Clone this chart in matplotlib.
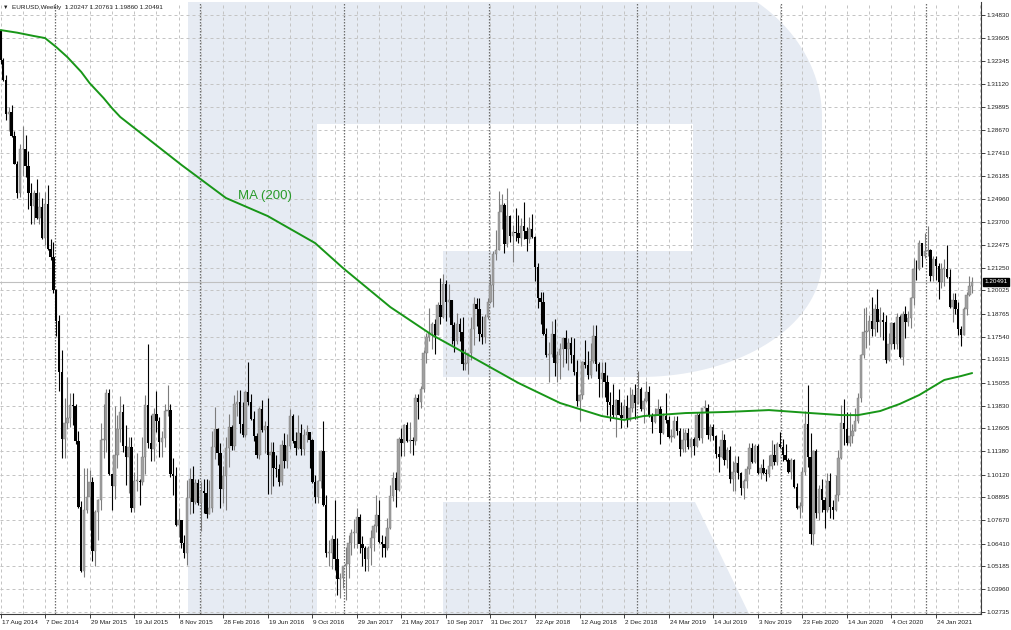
import matplotlib
matplotlib.use("Agg")
import numpy as np
import matplotlib.pyplot as plt
import matplotlib.transforms as mtransforms
from matplotlib.patches import Polygon

plt.rcParams['font.family'] = ['Liberation Sans', 'DejaVu Sans']

# ---- data (EURUSD weekly) ----
symbol = "EURUSD,Weekly"
header_ohlc = ["1.20247", "1.20761", "1.19860", "1.20491"]
first_open = 1.3397

closes = [
    1.3240, 1.3131, 1.2950, 1.2963, 1.2830, 1.2683, 1.2525, 1.2760, 1.2760, 1.2670,
    1.2525, 1.2455, 1.2525, 1.2390, 1.2450, 1.2285, 1.2465, 1.2225, 1.2180, 1.2003,
    1.1840, 1.1565, 1.1205, 1.1290, 1.1315, 1.1385, 1.1380, 1.1195, 1.0840, 1.0495,
    1.0820, 1.0890, 1.0970, 1.0600, 1.0810, 1.0875, 1.1200, 1.1200, 1.1450, 1.1015,
    1.0950, 1.1115, 1.1260, 1.1350, 1.1165, 1.1105, 1.1160, 1.0830, 1.0980, 1.0980,
    1.0970, 1.1105, 1.1385, 1.1180, 1.1150, 1.1340, 1.1300, 1.1190, 1.1210, 1.1355,
    1.1360, 1.1015, 1.1005, 1.0740, 1.0770, 1.0645, 1.0590, 1.0885, 1.0990, 1.0865,
    1.0965, 1.0860, 1.0925, 1.0915, 1.0800, 1.0830, 1.1160, 1.1255, 1.1130, 1.0935,
    1.1005, 1.1155, 1.1270, 1.1165, 1.1390, 1.1400, 1.1285, 1.1225, 1.1455, 1.1400,
    1.1310, 1.1220, 1.1115, 1.1365, 1.1250, 1.1275, 1.1120, 1.1135, 1.1050, 1.1040,
    1.0975, 1.1170, 1.1085, 1.1165, 1.1325, 1.1195, 1.1155, 1.1235, 1.1150, 1.1225,
    1.1240, 1.1200, 1.0970, 1.0890, 1.0980, 1.1140, 1.0850, 1.0590, 1.0590, 1.0665,
    1.0560, 1.0450, 1.0455, 1.0520, 1.0530, 1.0645, 1.0700, 1.0700, 1.0785, 1.0640,
    1.0615, 1.0560, 1.0620, 1.0670, 1.0735, 1.0795, 1.0650, 1.0640, 1.0615, 1.0725,
    1.0895, 1.0995, 1.0930, 1.1205, 1.1180, 1.1280, 1.1195, 1.1200, 1.1195, 1.1425,
    1.1400, 1.1470, 1.1665, 1.1750, 1.1775, 1.1820, 1.1760, 1.1925, 1.1860, 1.2035,
    1.1940, 1.1950, 1.1815, 1.1730, 1.1820, 1.1780, 1.1605, 1.1610, 1.1665, 1.1795,
    1.1930, 1.1900, 1.1770, 1.1750, 1.1860, 1.1940, 1.2030, 1.2200, 1.2220, 1.2425,
    1.2460, 1.2250, 1.2405, 1.2295, 1.2315, 1.2310, 1.2285, 1.2350, 1.2320, 1.2280,
    1.2330, 1.2290, 1.2130, 1.1960, 1.1940, 1.1770, 1.1655, 1.1660, 1.1770, 1.1610,
    1.1655, 1.1685, 1.1745, 1.1685, 1.1720, 1.1655, 1.1565, 1.1410, 1.1440, 1.1620,
    1.1600, 1.1550, 1.1625, 1.1755, 1.1605, 1.1525, 1.1560, 1.1510, 1.1400, 1.1385,
    1.1335, 1.1415, 1.1335, 1.1315, 1.1380, 1.1305, 1.1370, 1.1440, 1.1395, 1.1470,
    1.1365, 1.1410, 1.1455, 1.1325, 1.1295, 1.1335, 1.1365, 1.1235, 1.1325, 1.1305,
    1.1215, 1.1215, 1.1300, 1.1245, 1.1150, 1.1200, 1.1235, 1.1160, 1.1205, 1.1165,
    1.1330, 1.1210, 1.1370, 1.1370, 1.1225, 1.1270, 1.1220, 1.1125, 1.1105, 1.1200,
    1.1090, 1.1145, 1.0990, 1.1025, 1.1075, 1.1020, 1.0940, 1.0980, 1.1040, 1.1155,
    1.1080, 1.1165, 1.1020, 1.1050, 1.1020, 1.1015, 1.1060, 1.1120, 1.1080, 1.1175,
    1.1160, 1.1120, 1.1090, 1.1025, 1.1090, 1.0945, 1.0830, 1.0845, 1.1025, 1.1285,
    1.1105, 1.0695, 1.1140, 1.0805, 1.0935, 1.0875, 1.0820, 1.0980, 1.0840, 1.0820,
    1.0900, 1.1100, 1.1290, 1.1255, 1.1180, 1.1220, 1.1245, 1.1300, 1.1425, 1.1655,
    1.1780, 1.1785, 1.1840, 1.1795, 1.1905, 1.1835, 1.1845, 1.1835, 1.1630, 1.1715,
    1.1825, 1.1715, 1.1860, 1.1645, 1.1875, 1.1835, 1.1855, 1.1960, 1.2120, 1.2115,
    1.2255, 1.2185, 1.2215, 1.2220, 1.2080, 1.2170, 1.2135, 1.2045, 1.2120, 1.2120,
    1.2075, 1.1915, 1.1950, 1.1905, 1.1795, 1.1760, 1.1900, 1.1980, 1.20247, 1.20491,
]

highs = [
    1.3400, 1.3250, 1.3160, 1.2990, 1.3000, 1.2860, 1.2700, 1.2790, 1.2888, 1.2840,
    1.2750, 1.2580, 1.2540, 1.2600, 1.2530, 1.2500, 1.2530, 1.2570, 1.2280, 1.2260,
    1.2010, 1.1870, 1.1680, 1.1425, 1.1535, 1.1450, 1.1450, 1.1390, 1.1245, 1.0870,
    1.1045, 1.1050, 1.1035, 1.1000, 1.0820, 1.0880, 1.1290, 1.1390, 1.1470, 1.1470,
    1.1015, 1.1380, 1.1335, 1.1435, 1.1390, 1.1280, 1.1215, 1.1215, 1.1025, 1.1130,
    1.0990, 1.1215, 1.1440, 1.1715, 1.1330, 1.1370, 1.1460, 1.1320, 1.1245, 1.1390,
    1.1495, 1.1390, 1.1100, 1.1055, 1.0830, 1.0770, 1.0690, 1.0985, 1.1045, 1.1060,
    1.0990, 1.0990, 1.0970, 1.0990, 1.0990, 1.0985, 1.1245, 1.1375, 1.1265, 1.1180,
    1.1060, 1.1215, 1.1340, 1.1280, 1.1440, 1.1465, 1.1465, 1.1400, 1.1460, 1.1615,
    1.1445, 1.1355, 1.1235, 1.1375, 1.1415, 1.1300, 1.1425, 1.1185, 1.1185, 1.1120,
    1.1070, 1.1200, 1.1235, 1.1230, 1.1365, 1.1340, 1.1240, 1.1330, 1.1285, 1.1255,
    1.1280, 1.1240, 1.1205, 1.1010, 1.0985, 1.1145, 1.1300, 1.0900, 1.0660, 1.0685,
    1.0875, 1.0670, 1.0485, 1.0520, 1.0625, 1.0685, 1.0720, 1.0775, 1.0830, 1.0800,
    1.0680, 1.0630, 1.0630, 1.0715, 1.0745, 1.0905, 1.0875, 1.0690, 1.0680, 1.0780,
    1.0955, 1.1025, 1.1025, 1.1215, 1.1265, 1.1285, 1.1295, 1.1295, 1.1215, 1.1445,
    1.1445, 1.1490, 1.1680, 1.1775, 1.1910, 1.1830, 1.1850, 1.1940, 1.2070, 1.2090,
    1.2060, 1.2035, 1.1950, 1.1830, 1.1880, 1.1855, 1.1860, 1.1690, 1.1665, 1.1860,
    1.1965, 1.1960, 1.1960, 1.1865, 1.1875, 1.1960, 1.2090, 1.2215, 1.2325, 1.2535,
    1.2520, 1.2470, 1.2555, 1.2410, 1.2355, 1.2445, 1.2410, 1.2390, 1.2475, 1.2345,
    1.2395, 1.2415, 1.2295, 1.2150, 1.1995, 1.1995, 1.1800, 1.1725, 1.1840, 1.1850,
    1.1675, 1.1720, 1.1750, 1.1790, 1.1745, 1.1750, 1.1745, 1.1630, 1.1445, 1.1625,
    1.1735, 1.1675, 1.1720, 1.1815, 1.1815, 1.1620, 1.1620, 1.1620, 1.1545, 1.1455,
    1.1500, 1.1420, 1.1470, 1.1400, 1.1420, 1.1440, 1.1485, 1.1470, 1.1500, 1.1570,
    1.1485, 1.1425, 1.1515, 1.1490, 1.1345, 1.1370, 1.1420, 1.1380, 1.1345, 1.1450,
    1.1325, 1.1255, 1.1325, 1.1325, 1.1265, 1.1265, 1.1255, 1.1265, 1.1215, 1.1215,
    1.1350, 1.1345, 1.1370, 1.1415, 1.1390, 1.1285, 1.1285, 1.1225, 1.1165, 1.1250,
    1.1230, 1.1160, 1.1165, 1.1085, 1.1110, 1.1110, 1.1025, 1.0990, 1.1060, 1.1180,
    1.1180, 1.1175, 1.1175, 1.1070, 1.1095, 1.1040, 1.1115, 1.1200, 1.1175, 1.1190,
    1.1240, 1.1205, 1.1175, 1.1100, 1.1100, 1.1095, 1.0965, 1.0865, 1.1055, 1.1355,
    1.1495, 1.1235, 1.1145, 1.1150, 1.0955, 1.0990, 1.0890, 1.1020, 1.1020, 1.0875,
    1.1010, 1.1145, 1.1385, 1.1420, 1.1350, 1.1350, 1.1285, 1.1370, 1.1450, 1.1660,
    1.1910, 1.1915, 1.1870, 1.1965, 1.1930, 1.2010, 1.1915, 1.1885, 1.1870, 1.1775,
    1.1830, 1.1830, 1.1880, 1.1870, 1.1890, 1.1920, 1.1890, 1.1965, 1.2175, 1.2165,
    1.2275, 1.2250, 1.2310, 1.2350, 1.2225, 1.2190, 1.2190, 1.2150, 1.2150, 1.2170,
    1.2245, 1.2115, 1.1990, 1.1990, 1.1940, 1.1810, 1.1915, 1.1995, 1.2080, 1.20761,
]

lows = [
    1.3217, 1.3130, 1.2920, 1.2860, 1.2825, 1.2680, 1.2500, 1.2505, 1.2615, 1.2613,
    1.2440, 1.2358, 1.2360, 1.2385, 1.2360, 1.2280, 1.2245, 1.2220, 1.2165, 1.1990,
    1.1755, 1.1460, 1.1100, 1.1100, 1.1260, 1.1270, 1.1280, 1.1175, 1.0835, 1.0490,
    1.0460, 1.0805, 1.0715, 1.0550, 1.0520, 1.0660, 1.0820, 1.1100, 1.1135, 1.1010,
    1.0820, 1.0880, 1.1050, 1.1190, 1.1135, 1.0955, 1.0915, 1.0810, 1.0810, 1.0925,
    1.0850, 1.0955, 1.1015, 1.1155, 1.1085, 1.1085, 1.1240, 1.1105, 1.1105, 1.1160,
    1.1325, 1.1000, 1.0900, 1.0735, 1.0675, 1.0620, 1.0565, 1.0525, 1.0800, 1.0805,
    1.0855, 1.0850, 1.0710, 1.0805, 1.0780, 1.0810, 1.0810, 1.1095, 1.1065, 1.0835,
    1.0860, 1.0820, 1.1055, 1.1145, 1.1145, 1.1325, 1.1235, 1.1215, 1.1215, 1.1385,
    1.1305, 1.1195, 1.1100, 1.1095, 1.1240, 1.1130, 1.0910, 1.0910, 1.0950, 1.1000,
    1.0950, 1.0955, 1.1045, 1.1045, 1.1150, 1.1180, 1.1120, 1.1150, 1.1120, 1.1120,
    1.1190, 1.1045, 1.0965, 1.0860, 1.0860, 1.0940, 1.0845, 1.0570, 1.0520, 1.0505,
    1.0500, 1.0365, 1.0350, 1.0405, 1.0340, 1.0455, 1.0580, 1.0620, 1.0620, 1.0590,
    1.0520, 1.0495, 1.0495, 1.0525, 1.0600, 1.0705, 1.0645, 1.0570, 1.0570, 1.0605,
    1.0720, 1.0870, 1.0840, 1.0925, 1.1110, 1.1110, 1.1190, 1.1130, 1.1120, 1.1170,
    1.1310, 1.1370, 1.1455, 1.1610, 1.1730, 1.1690, 1.1660, 1.1770, 1.1820, 1.1855,
    1.1840, 1.1860, 1.1715, 1.1670, 1.1715, 1.1730, 1.1575, 1.1575, 1.1555, 1.1630,
    1.1710, 1.1810, 1.1730, 1.1715, 1.1720, 1.1850, 1.1935, 1.1915, 1.2165, 1.2220,
    1.2335, 1.2205, 1.2235, 1.2260, 1.2155, 1.2270, 1.2255, 1.2240, 1.2280, 1.2215,
    1.2255, 1.2285, 1.2055, 1.1910, 1.1820, 1.1765, 1.1645, 1.1510, 1.1645, 1.1540,
    1.1510, 1.1525, 1.1590, 1.1610, 1.1575, 1.1610, 1.1545, 1.1380, 1.1300, 1.1420,
    1.1585, 1.1525, 1.1530, 1.1610, 1.1570, 1.1430, 1.1430, 1.1430, 1.1335, 1.1300,
    1.1315, 1.1215, 1.1330, 1.1265, 1.1320, 1.1270, 1.1300, 1.1350, 1.1310, 1.1390,
    1.1355, 1.1290, 1.1400, 1.1320, 1.1235, 1.1290, 1.1330, 1.1175, 1.1230, 1.1290,
    1.1210, 1.1185, 1.1210, 1.1225, 1.1110, 1.1135, 1.1135, 1.1150, 1.1105, 1.1115,
    1.1160, 1.1200, 1.1180, 1.1350, 1.1205, 1.1195, 1.1200, 1.1100, 1.1025, 1.1100,
    1.1065, 1.1050, 1.0965, 1.0925, 1.0925, 1.0990, 1.0905, 1.0880, 1.0940, 1.1015,
    1.1075, 1.1075, 1.1015, 1.0990, 1.1015, 1.0980, 1.1000, 1.1040, 1.1065, 1.1065,
    1.1155, 1.1085, 1.1085, 1.1020, 1.0990, 1.0940, 1.0825, 1.0780, 1.0810, 1.1010,
    1.1055, 1.0640, 1.0635, 1.0780, 1.0770, 1.0810, 1.0725, 1.0810, 1.0780, 1.0775,
    1.0815, 1.0870, 1.1095, 1.1170, 1.1170, 1.1165, 1.1180, 1.1250, 1.1290, 1.1405,
    1.1640, 1.1695, 1.1710, 1.1755, 1.1755, 1.1780, 1.1750, 1.1735, 1.1610, 1.1625,
    1.1690, 1.1690, 1.1690, 1.1640, 1.1600, 1.1745, 1.1810, 1.1800, 1.1925, 1.2060,
    1.2110, 1.2130, 1.2175, 1.2190, 1.2055, 1.2055, 1.2060, 1.1955, 1.2015, 1.2025,
    1.2070, 1.1910, 1.1835, 1.1875, 1.1760, 1.1705, 1.1760, 1.1870, 1.1975, 1.19860,
]

# MA(200): bar index -> value
ma_bars = [0, 6, 12, 16, 20, 24, 29, 32, 37, 40, 43, 54, 65, 81, 96, 113, 123, 140, 155,
           170, 186, 201, 216, 224, 231, 246, 261, 276, 291, 302, 308, 316, 323, 330, 339,
           345, 349]
ma_vals = [1.3402, 1.3388, 1.3370, 1.3359, 1.3311, 1.3257, 1.3177, 1.3117, 1.3037, 1.2983,
           1.2935, 1.2806, 1.2677, 1.2499, 1.2402, 1.2257, 1.2123, 1.1913, 1.1763, 1.1639,
           1.1505, 1.1397, 1.1327, 1.1306, 1.1327, 1.1343, 1.1349, 1.1359, 1.1343, 1.1332,
           1.1332, 1.1354, 1.1392, 1.1440, 1.1521, 1.1542, 1.1558]

price_ticks = ["1.34830", "1.33605", "1.32345", "1.31120", "1.29895", "1.28670", "1.27410",
               "1.26185", "1.24960", "1.23700", "1.22475", "1.21250", "1.20025", "1.18765",
               "1.17540", "1.16315", "1.15055", "1.13830", "1.12605", "1.11380", "1.10120",
               "1.08895", "1.07670", "1.06410", "1.05185", "1.03960", "1.02735"]
date_labels = ["17 Aug 2014", "7 Dec 2014", "29 Mar 2015", "19 Jul 2015", "8 Nov 2015",
               "28 Feb 2016", "19 Jun 2016", "9 Oct 2016", "29 Jan 2017", "21 May 2017",
               "10 Sep 2017", "31 Dec 2017", "22 Apr 2018", "12 Aug 2018", "2 Dec 2018",
               "24 Mar 2019", "14 Jul 2019", "3 Nov 2019", "23 Feb 2020", "14 Jun 2020",
               "4 Oct 2020", "24 Jan 2021"]
bars_per_label = 16
year_start_bars = [20, 72, 124, 176, 229, 281, 333]

# ---- derived OHLC ----
closes = np.array(closes)
opens = np.concatenate([[first_open], closes[:-1]])
highs = np.maximum(np.array(highs), np.maximum(opens, closes))
lows = np.minimum(np.array(lows), np.minimum(opens, closes))
idx = np.arange(len(closes))
last_price = float(header_ohlc[3])

W, H = 1011, 630
fig = plt.figure(figsize=(W / 100, H / 100), dpi=100)
fig.patch.set_facecolor("white")
ax = fig.add_axes([0, 16 / H, 981 / W, 612 / H])
ax.set_facecolor("white")

xmin, xmax = -0.18, 352.19
ymin, ymax = 1.026275, 1.355289


def px(x, y):
    # image pixel (y down) -> display coords
    return (x, H - y)


# watermark "R" (decoration, drawn in pixel space)
wm = "#e6ebf3"
ident = mtransforms.IdentityTransform()
shapes = []
shapes.append([px(188, -20), px(317, -20), px(317, 640), px(188, 640)])
shapes.append([px(317, -20), px(645, -20), px(645, 124), px(317, 124)])
t1 = np.linspace(np.pi / 2, 0, 40)
t2 = np.linspace(0, -np.pi / 2, 40)
bowl = [px(640, -33)]
bowl += [px(640 + 182 * np.cos(t), 117 - 150 * np.sin(t)) for t in t1]
bowl += [px(640 + 182 * np.cos(t), 260 - 117 * np.sin(t)) for t in t2]
bowl += [px(443, 377), px(443, 251), px(693, 251), px(693, 124), px(640, 124)]
shapes.append(bowl)
shapes.append([px(443, 502), px(695, 502), px(752, 620), px(443, 620)])
for s in shapes:
    p = Polygon(s, closed=True, facecolor=wm, edgecolor="none", transform=ident, zorder=0)
    ax.add_patch(p)

# grid
grid_c = "#c4c4c4"
for t in price_ticks:
    ax.axhline(float(t), color=grid_c, lw=0.72, ls=(0, (3, 3)), zorder=1)
for b in range(0, 353, bars_per_label // 2):
    ax.axvline(b, color=grid_c, lw=0.72, ls=(0, (3, 3)), zorder=1)
for b in year_start_bars:
    ax.axvline(b - 0.5, color="#6e6e6e", lw=0.9, ls=(0, (1.2, 1.2)), zorder=1.2)

# current price line
ax.axhline(last_price, color="#c0c0c0", lw=0.8, zorder=1.5)

# candles
up = closes >= opens
body_lo = np.minimum(opens, closes)
body_h = np.maximum(np.abs(closes - opens), 0.0004)
bull_body, bull_wick, bear = "#a0a0a0", "#7c7c7c", "#000000"
ax.vlines(idx[up], lows[up], highs[up], color=bull_wick, lw=0.8, zorder=2)
ax.vlines(idx[~up], lows[~up], highs[~up], color=bear, lw=0.8, zorder=2)
ax.bar(idx[up], body_h[up], bottom=body_lo[up], width=0.86, color=bull_body,
       edgecolor=bull_wick, linewidth=0.3, zorder=3)
ax.bar(idx[~up], body_h[~up], bottom=body_lo[~up], width=0.86, color=bear,
       linewidth=0, zorder=3)

# moving average
ax.plot(ma_bars, ma_vals, color="#189618", lw=1.4, zorder=4,
        solid_capstyle="round", solid_joinstyle="round")
ax.text(85.3, 1.2510, "MA (200)", color="#2a9a2a", fontsize=9.5, ha="left", va="center", zorder=5)

ax.set_xlim(xmin, xmax)
ax.set_ylim(ymin, ymax)

# axes styling
for side in ("left", "top"):
    ax.spines[side].set_visible(False)
for side in ("right", "bottom"):
    ax.spines[side].set_color("#3c3c3c")
    ax.spines[side].set_linewidth(0.8)

ax.yaxis.tick_right()
ax.set_yticks([float(t) for t in price_ticks])
ax.set_yticklabels(price_ticks)
ax.tick_params(axis="y", direction="out", length=3, width=0.6, pad=1.2,
               labelsize=4.6, colors="#202020")

ax.set_xticks([i * bars_per_label for i in range(len(date_labels))])
ax.set_xticklabels(date_labels)
ax.tick_params(axis="x", direction="out", length=3, width=0.6, pad=1.5,
               labelsize=4.6, colors="#202020")
shift = mtransforms.ScaledTranslation(1 / 100, 0, fig.dpi_scale_trans)
for lab in ax.get_xticklabels():
    lab.set_ha("left")
    lab.set_transform(lab.get_transform() + shift)

# current price tag
tag_tr = mtransforms.blended_transform_factory(ax.transAxes, ax.transData)
ax.text(1.0 + 3.5 / 981, last_price, header_ohlc[3], transform=tag_tr, fontsize=4.6,
        color="white", ha="left", va="center", zorder=6, clip_on=False,
        bbox=dict(boxstyle="square,pad=0.25", fc="black", ec="black"))

# header
fig.text(3 / W, 1 - 7.5 / H, "\u25bc", fontsize=4, ha="left", va="center", color="#202020")
fig.text(12 / W, 1 - 7.5 / H, symbol + "  " + " ".join(header_ohlc), fontsize=4.6,
         ha="left", va="center", color="#202020")

fig.savefig("out.png", dpi=100, facecolor="white")
